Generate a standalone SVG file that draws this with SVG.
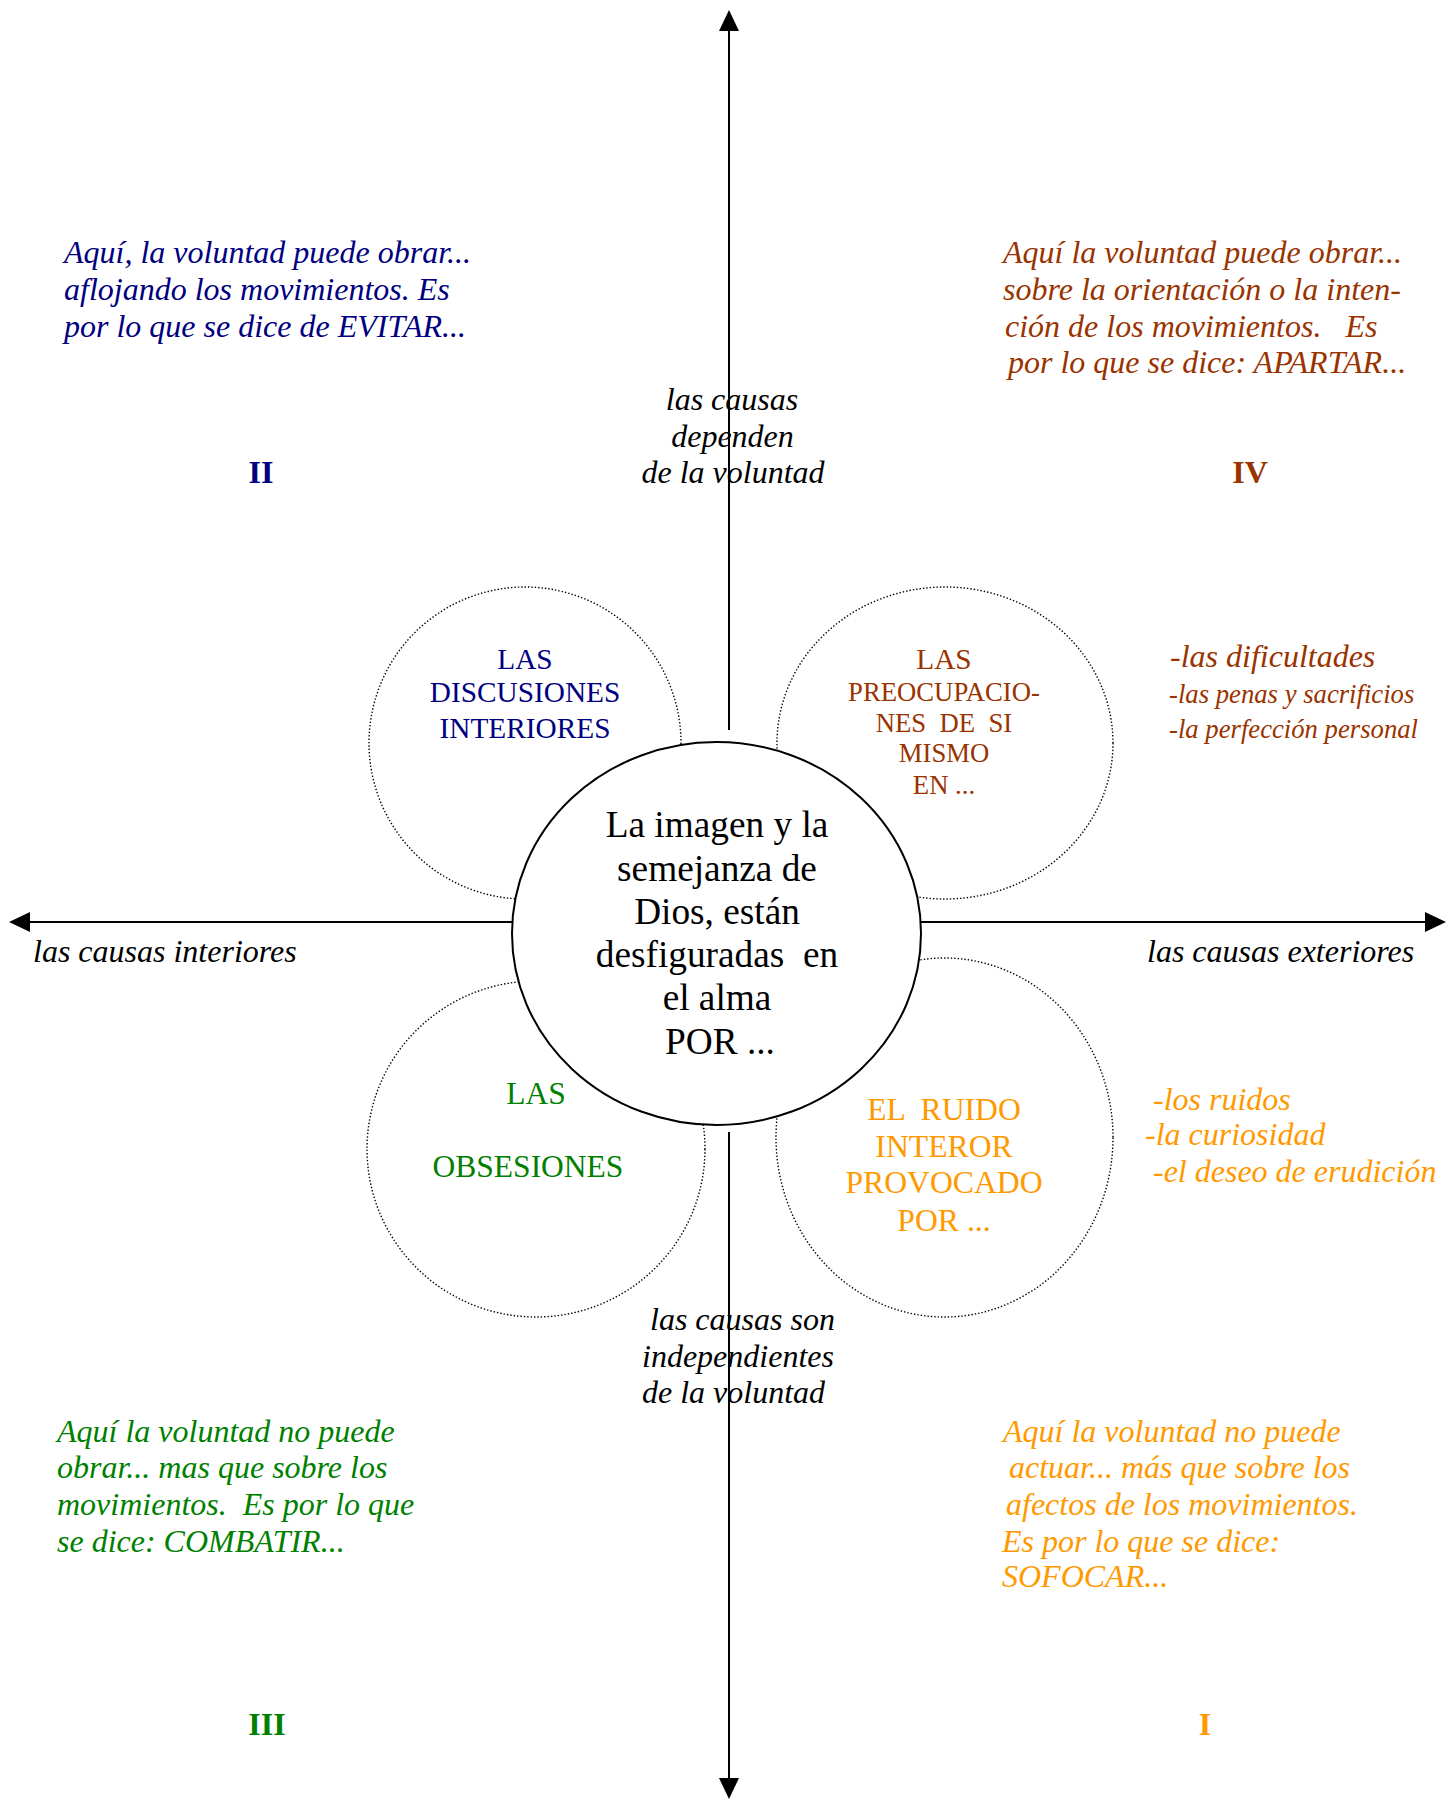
<svg xmlns="http://www.w3.org/2000/svg" width="1447" height="1801" viewBox="0 0 1447 1801">
<style>
text { font-family: "Liberation Serif", "Times New Roman", serif; white-space: pre; }
.it { font-style: italic; font-size: 32px; }
.blue { fill: #000080; }
.brown { fill: #993300; }
.green { fill: #008000; }
.orange { fill: #FF9900; }
.blk { fill: #000000; }
.num { font-weight: bold; font-style: normal; font-size: 32px; text-anchor: middle; }
.mid { text-anchor: middle; }
.dot { fill: none; stroke: #000; stroke-width: 1.4; stroke-dasharray: 1.4 2; }
.axis { stroke: #000; stroke-width: 2; fill: none; }
</style>
<defs>
<marker id="arr" markerUnits="userSpaceOnUse" markerWidth="22" markerHeight="22" viewBox="0 0 22 22" refX="19" refY="11" orient="auto">
<path d="M0,1 L21,11 L0,21 z" fill="#000"/>
</marker>
</defs>

<g id="petals">
<g id="petal-II"><ellipse class="dot" cx="525" cy="743" rx="156" ry="156"/></g>
<g id="petal-IV"><ellipse class="dot" cx="945" cy="743" rx="168" ry="156"/></g>
<g id="petal-III"><ellipse class="dot" cx="536" cy="1149" rx="169" ry="168"/></g>
<g id="petal-I"><ellipse class="dot" cx="944.5" cy="1137.5" rx="168.5" ry="179.5"/></g>
</g>

<g id="connectors">
<line class="axis" x1="729" y1="730" x2="729" y2="12" marker-end="url(#arr)"/>
<line class="axis" x1="729" y1="1132" x2="729" y2="1797" marker-end="url(#arr)"/>
<line class="axis" x1="600" y1="922" x2="11" y2="922" marker-end="url(#arr)"/>
<line class="axis" x1="850" y1="922" x2="1444" y2="922" marker-end="url(#arr)"/>
</g>

<g id="center">
<ellipse cx="716.5" cy="933.5" rx="204.5" ry="191.5" fill="#fff" stroke="#000" stroke-width="2"/>
<g class="blk mid" font-size="37.3px">
<text x="717" y="837">La imagen y la</text>
<text x="717" y="881">semejanza de</text>
<text x="717" y="924">Dios, están</text>
<text x="717" y="967">desfiguradas  en</text>
<text x="717" y="1010">el alma</text>
<text x="720" y="1054">POR ...</text>
</g>
</g>

<g id="node-II-circle" class="blue mid" font-size="29.3px">
<text x="525" y="669">LAS</text>
<text x="525" y="702">DISCUSIONES</text>
<text x="525" y="738">INTERIORES</text>
</g>

<g id="node-IV-circle" class="brown mid" font-size="26.7px">
<text x="944" y="669" font-size="29.3px">LAS</text>
<text x="944" y="701">PREOCUPACIO-</text>
<text x="944" y="732">NES  DE  SI</text>
<text x="944" y="762">MISMO</text>
<text x="944" y="794">EN ...</text>
</g>

<g id="node-III-circle" class="green mid" font-size="31.5px">
<text x="536" y="1104">LAS</text>
<text x="528" y="1177">OBSESIONES</text>
</g>

<g id="node-I-circle" class="orange mid" font-size="31.7px">
<text x="944" y="1120">EL  RUIDO</text>
<text x="944" y="1157">INTEROR</text>
<text x="944" y="1193">PROVOCADO</text>
<text x="944" y="1231">POR ...</text>
</g>

<g id="quadrant-II" class="it blue">
<text x="64" y="263">Aquí, la voluntad puede obrar...</text>
<text x="64" y="300">aflojando los movimientos. Es</text>
<text x="64" y="337">por lo que se dice de EVITAR...</text>
<text class="num" x="261" y="483">II</text>
</g>

<g id="quadrant-IV" class="it brown">
<text x="1003" y="263">Aquí la voluntad puede obrar...</text>
<text x="1003" y="300">sobre la orientación o la inten-</text>
<text x="1005" y="337">ción de los movimientos.   Es</text>
<text x="1008" y="373">por lo que se dice: APARTAR...</text>
<text class="num" x="1250" y="483">IV</text>
</g>

<g id="quadrant-III" class="it green">
<text x="57" y="1442">Aquí la voluntad no puede</text>
<text x="57" y="1478">obrar... mas que sobre los</text>
<text x="57" y="1515">movimientos.  Es por lo que</text>
<text x="57" y="1552">se dice: COMBATIR...</text>
<text class="num" x="267" y="1735">III</text>
</g>

<g id="quadrant-I" class="it orange">
<text x="1003" y="1442">Aquí la voluntad no puede</text>
<text x="1009" y="1478">actuar... más que sobre los</text>
<text x="1006" y="1515">afectos de los movimientos.</text>
<text x="1002" y="1552">Es por lo que se dice:</text>
<text x="1002" y="1587">SOFOCAR...</text>
<text class="num" x="1205" y="1735">I</text>
</g>

<g id="list-IV" class="brown" font-style="italic">
<text x="1170" y="667" font-size="32px">-las dificultades</text>
<text x="1169" y="703" font-size="26.7px">-las penas y sacrificios</text>
<text x="1169" y="738" font-size="26.7px">-la perfección personal</text>
</g>

<g id="list-I" class="it orange">
<text x="1153" y="1110">-los ruidos</text>
<text x="1145" y="1145">-la curiosidad</text>
<text x="1153" y="1182">-el deseo de erudición</text>
</g>

<g id="axis-labels" class="it blk">
<text class="mid" x="732" y="410">las causas</text>
<text class="mid" x="732.5" y="447">dependen</text>
<text class="mid" x="733" y="483">de la voluntad</text>
<text x="650" y="1330">las causas son</text>
<text x="642" y="1367">independientes</text>
<text x="642" y="1403">de la voluntad</text>
<text x="33" y="962">las causas interiores</text>
<text x="1147" y="962">las causas exteriores</text>
</g>
</svg>
